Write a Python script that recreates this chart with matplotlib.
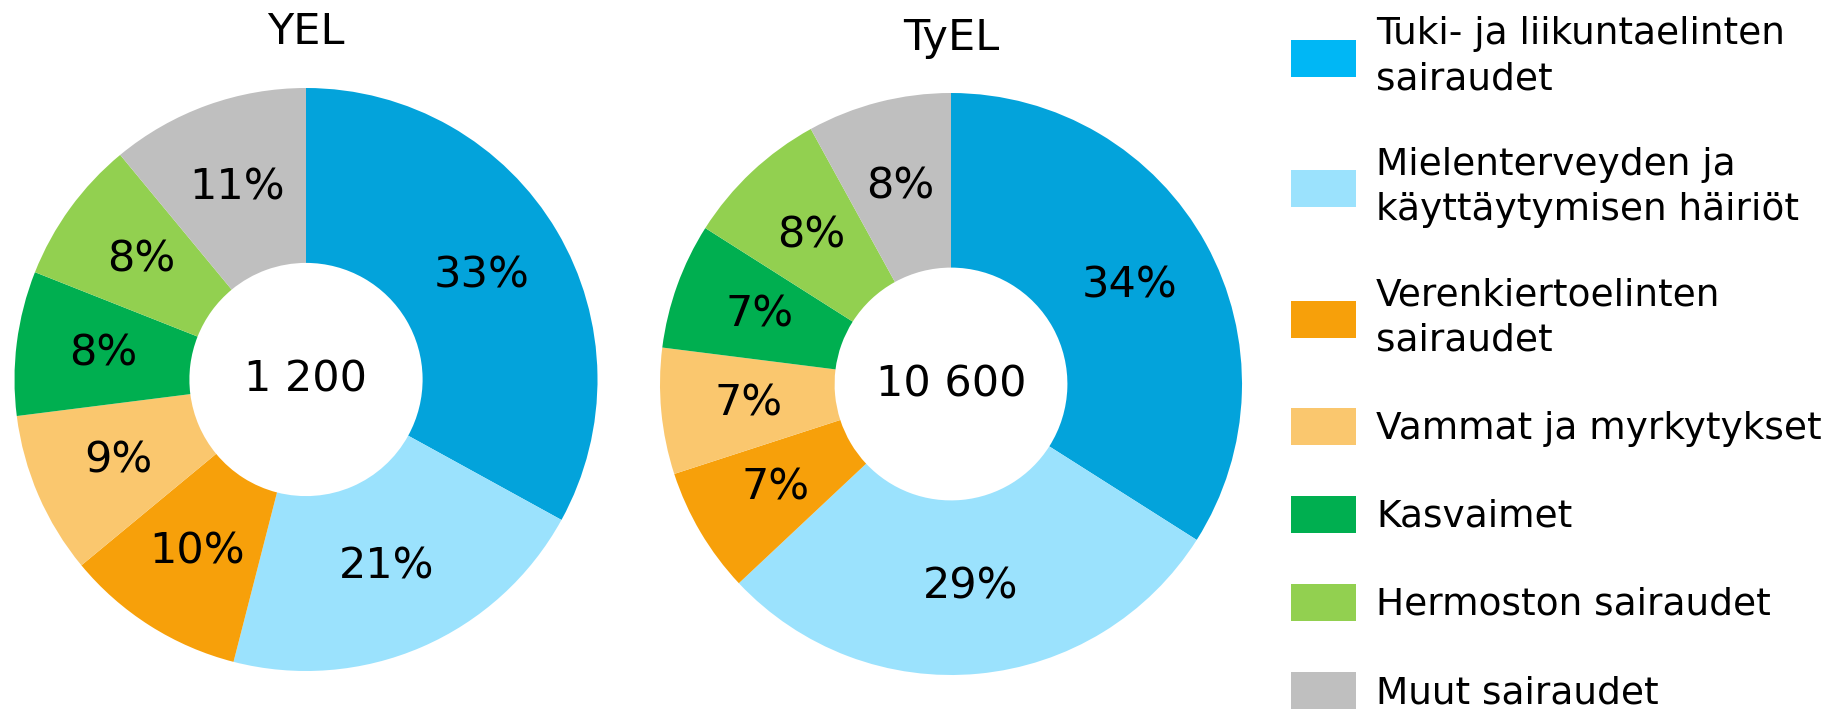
import matplotlib
matplotlib.use("Agg")
import matplotlib.pyplot as plt
from matplotlib.patches import Patch

plt.rcParams['font.family'] = ['DejaVu Sans']

categories = [
    "Tuki- ja liikuntaelinten\nsairaudet",
    "Mielenterveyden ja\nkäyttäytymisen häiriöt",
    "Verenkiertoelinten\nsairaudet",
    "Vammat ja myrkytykset",
    "Kasvaimet",
    "Hermoston sairaudet",
    "Muut sairaudet",
]
yel_values = [33, 21, 10, 9, 8, 8, 11]
tyel_values = [34, 29, 7, 7, 7, 8, 8]
yel_total = "1 200"
tyel_total = "10 600"
titles = ["YEL", "TyEL"]

slice_colors = ["#03A3DB", "#9BE2FD", "#F7A00A", "#FAC76E", "#00AF50", "#92D050", "#BFBFBF"]
legend_colors = ["#00B7F5", "#9BE2FD", "#F7A00A", "#FAC76E", "#00AF50", "#92D050", "#BFBFBF"]

W, H = 1833, 727
fig = plt.figure(figsize=(W / 100, H / 100), dpi=100)


def donut(cx, cy, r, values, total, title, title_base):
    ax = fig.add_axes([(cx - r) / W, (H - cy - r) / H, 2 * r / W, 2 * r / H])
    ax.pie(values, colors=slice_colors, startangle=90, counterclock=False,
           radius=1, wedgeprops=dict(width=0.6, linewidth=0),
           autopct=lambda p: f"{p:.0f}%", pctdistance=0.7,
           textprops=dict(fontsize=31, color="black"))
    ax.text(0, 0, total, ha="center", va="center", fontsize=31)
    ax.set_xlim(-1, 1)
    ax.set_ylim(-1, 1)
    ax.set_aspect("equal")
    ax.axis("off")
    fig.text(cx / W, 1 - title_base / H, title, ha="center", va="baseline", fontsize=31)


donut(306, 379.5, 291.5, yel_values, yel_total, titles[0], 44)
donut(951, 384, 291, tyel_values, tyel_total, titles[1], 50)

fs_px = 27 * 100 / 72
handles = [Patch(facecolor=c, edgecolor="none") for c in legend_colors]
leg = fig.legend(handles, categories, loc="upper left",
                 bbox_to_anchor=(1291 / W, 1 - 16 / H), frameon=False,
                 fontsize=27, handlelength=65 / fs_px, handleheight=43 / fs_px,
                 handletextpad=20 / fs_px, labelspacing=1.3,
                 borderpad=0, borderaxespad=0)
for t in leg.get_texts():
    t.set_linespacing(1.35)

fig.savefig("out.png", dpi=100)
